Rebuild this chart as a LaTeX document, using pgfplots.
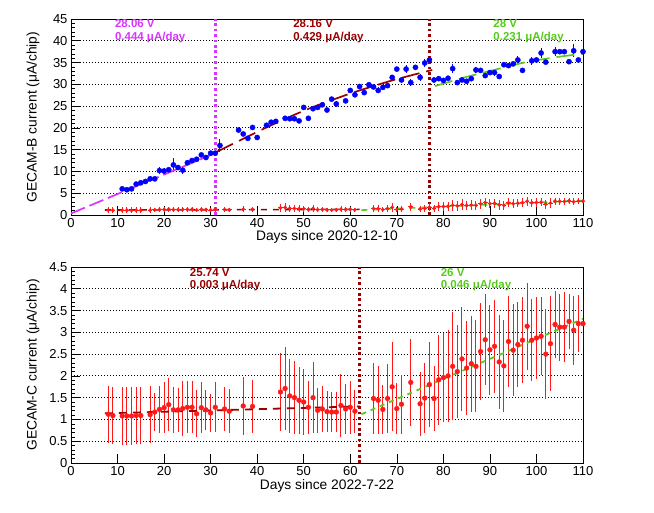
\documentclass[border=0pt]{standalone}
\usepackage{fontspec}
\setmainfont{Liberation Sans}
\usepackage{pgfplots}
\usepackage{pgfplotstable}
\pgfplotsset{compat=1.18}
\definecolor{rmag}{rgb}{0.85,0.2,1}
\definecolor{rmaroon}{rgb}{0.6,0,0}
\definecolor{rgreen}{rgb}{0.33,0.8,0.1}
\definecolor{rred}{rgb}{1,0.1,0.1}

\pgfplotstableread{
day val err
11 6.0 0.3
12 5.8 0.3
13 6.0 0.3
14 7.1 0.3
15 7.4 0.3
16 7.7 0.3
17 8.3 0.6
18 8.3 0.4
19 10.2 0.9
20 10.1 0.6
21 10.4 0.4
22 11.5 1.5
23 10.9 0.4
24 10.3 1.0
25 12.0 0.4
26 12.5 0.4
27 12.8 0.4
28 13.8 0.5
29 13.2 0.4
30 14.2 0.4
31 14.2 0.5
32 15.95 1.5
36 19.5 0.4
37 18.6 0.5
38 17.6 0.4
39 20.1 0.4
40 17.8 0.4
42 20.6 0.4
43 21.3 0.4
44 21.5 0.4
46 22.2 0.4
47 22.1 0.4
48 22.1 0.4
49 21.6 0.4
50 24.7 0.5
51 22.2 0.4
52 24.4 0.5
53 24.7 0.6
54 25.3 0.5
55 24.1 0.4
56 26.6 0.4
57 25.5 0.6
59 26.2 0.4
60 28.6 0.4
61 27.6 0.6
62 29.5 0.4
63 28.1 0.6
64 29.9 0.4
65 29.4 0.4
66 28.6 0.7
67 29.3 0.4
68 29.7 0.4
69 31.6 0.6
70 33.5 0.4
71 31.0 0.4
72 33.5 1.0
73 30.4 0.8
74 33.9 0.4
75 31.6 0.8
76 34.9 1.0
77 35.6 0.8
78 31.0 0.4
79 31.3 0.4
80 30.9 0.4
81 31.4 0.5
82 33.6 1.0
83 30.4 0.4
84 31.0 0.4
85 30.7 0.4
86 31.3 0.4
87 33.3 0.7
88 33.2 0.4
89 32.0 0.4
90 32.7 0.4
91 32.7 0.7
92 31.8 0.5
93 34.5 0.4
94 34.3 0.4
95 34.7 0.4
96 35.6 1.0
97 33.2 0.4
99 35.4 0.9
100 35.6 0.4
101 37.2 1.2
102 35.1 0.4
104 37.5 1.0
105 37.5 0.4
106 37.5 0.4
107 35.2 0.4
108 37.7 1.5
109 35.6 0.4
110 37.5 1.0
}\bluedata

\pgfplotstableread{
day val err
8 1.12 0.65
9 1.09 0.65
11 1.08 0.66
12 1.08 0.66
13 1.08 0.66
14 1.09 0.66
15 1.09 0.66
17 1.11 0.66
18 1.17 0.44
19 1.23 0.54
20 1.27 0.59
21 1.34 0.61
22 1.22 0.52
23 1.22 0.51
24 1.25 0.63
25 1.28 0.60
26 1.28 0.60
27 1.13 0.54
28 1.27 0.59
29 1.22 0.46
30 1.15 0.44
31 1.28 0.57
33 1.24 0.51
34 1.19 0.50
37 1.31 0.66
39 1.30 0.61
45 1.63 0.90
46 1.71 0.95
47 1.54 0.85
48 1.50 0.84
49 1.44 0.77
50 1.40 0.76
51 1.28 0.61
52 1.50 0.82
53 1.21 0.52
54 1.24 0.52
55 1.18 0.47
56 1.17 0.46
57 1.17 0.45
58 1.32 0.73
59 1.24 0.58
60 1.28 0.61
61 1.19 0.49
65 1.48 0.81
66 1.44 0.78
67 1.23 0.56
68 1.48 0.79
69 1.75 1.02
70 1.25 0.59
71 1.35 0.68
73 1.85 0.99
75 1.36 0.73
76 1.49 0.81
77 1.80 0.97
78 1.48 0.75
79 1.91 1.04
80 1.96 1.03
81 2.00 1.05
82 2.22 1.24
83 2.10 1.07
84 2.39 1.19
85 2.18 1.08
86 2.28 1.10
87 2.22 1.06
88 2.56 1.11
89 2.83 1.04
90 2.60 1.03
91 2.68 1.07
92 2.32 1.07
93 2.23 1.06
94 2.79 1.05
95 2.59 1.06
96 2.72 0.98
97 2.82 0.99
98 3.14 1.00
99 2.82 0.94
100 2.87 0.95
101 2.91 0.90
102 2.50 1.04
103 2.74 1.09
104 3.18 0.78
105 3.12 0.77
106 3.12 0.80
107 3.25 0.63
108 3.05 0.79
109 3.20 0.65
110 3.20 0.56
}\reddata

\pgfplotsset{rootax/.style={
  scale only axis, width=512pt, height=196pt,
  xmin=0, xmax=110, xtick={0,10,...,110},
  axis line style={line width=0.8pt},
  tick align=inside, xtick pos=bottom, ytick pos=left,
  minor y tick num=4,
  major tick length=9pt, minor tick length=4.5pt,
  tick style={black, line width=0.6pt},
  ymajorgrids,
  major grid style={black, line width=0.8pt, dash pattern=on 0.9pt off 2.1pt},
  /pgf/number format/assume math mode=true,
  tick label style={font=\fontsize{13}{15}\selectfont},
  label style={font=\fontsize{13.8}{16}\selectfont},
  xlabel style={at={(axis description cs:0.5,0)}, anchor=base, yshift=-26pt},
  ylabel style={at={(axis description cs:-0.0742,0.5)}, anchor=center},
  clip=true,
}}
\tikzset{annot/.style={anchor=base west, font=\bfseries\fontsize{11.5}{13}\selectfont},
  vmark/.style={line width=2.6pt, dash pattern=on 2.6pt off 2.8pt}}

\begin{document}
\begin{tikzpicture}
\useasboundingbox (0,0) rectangle (654pt,512pt);

% ---------- top panel ----------
\begin{axis}[rootax, at={(71pt,297pt)}, anchor=south west,
  ymin=0, ymax=45, ytick={0,5,...,45},
  xlabel={Days since 2020-12-10},
  ylabel={GECAM-B current (μA/chip)}]
% vertical markers
\addplot[rmag, vmark] coordinates {(31,0) (31,45)};
\addplot[rmaroon, vmark] coordinates {(77,0) (77,45)};
% red data (overlay)
\addplot[rmaroon, line width=1.6pt, dash pattern=on 6pt off 6pt] coordinates {(7.3,1.14) (62,1.30)};
\addplot[rgreen, line width=1.6pt, dash pattern=on 6pt off 6pt] coordinates {(62.4,1.12) (110,3.31)};
\addplot[only marks, mark=*, mark size=1.7pt, color=rred,
  error bars/.cd, y dir=both, y explicit, x dir=both, x fixed=0.5,
  error mark=none, error bar style={rred, line width=0.9pt}]
  table[x=day, y=val, y error=err] {\reddata};
% blue data
\addplot[only marks, mark=*, mark size=2.6pt, color=blue,
  error bars/.cd, y dir=both, y explicit,
  error mark=none, error bar style={blue, line width=1pt}]
  table[x=day, y=val, y error=err] {\bluedata};
% fits
\addplot[rmag, line width=1.7pt, dash pattern=on 15pt off 5pt] coordinates {(0,0.35) (31,14.2)};
\addplot[rmaroon, line width=1.7pt, dash pattern=on 18pt off 7pt, smooth] coordinates {
  (31.3,14.5) (37,17.5) (42,20.1) (48.4,23.2) (53,25.2) (60.3,28.0) (65,29.6) (70,31.2) (77.6,33.3)};
\addplot[rgreen, line width=1.7pt, dash pattern=on 18pt off 7pt, smooth] coordinates {
  (78.2,29.6) (83.9,31.4) (86.4,32.1) (93.5,34.0) (97.8,35.1) (104.6,36.3) (110,37.0)};
\node[annot, text=rmag] at (axis cs:8.7,43.0) {28.06 V};
\node[annot, text=rmag] at (axis cs:8.7,40.0) {0.444 μA/day};
\node[annot, text=rmaroon] at (axis cs:47.0,43.0) {28.16 V};
\node[annot, text=rmaroon] at (axis cs:47.0,40.0) {0.429 μA/day};
\node[annot, text=rgreen] at (axis cs:90.0,43.0) {28 V};
\node[annot, text=rgreen] at (axis cs:90.0,40.0) {0.231 μA/day};
\end{axis}

% ---------- bottom panel ----------
\begin{axis}[rootax, at={(71pt,49pt)}, anchor=south west,
  ymin=0, ymax=4.5, ytick={0,0.5,...,4.5},
  xlabel={Days since 2022-7-22},
  ylabel={GECAM-C current (μA/chip)}]
\addplot[rmaroon, vmark] coordinates {(62,0) (62,4.5)};
\addplot[only marks, mark=*, mark size=2.4pt, color=rred,
  error bars/.cd, y dir=both, y explicit,
  error mark=none, error bar style={rred, line width=1pt}]
  table[x=day, y=val, y error=err] {\reddata};
\addplot[rmaroon, line width=1.8pt, dash pattern=on 8pt off 6pt] coordinates {(7.3,1.14) (62,1.30)};
\addplot[rgreen, line width=1.8pt, dash pattern=on 5pt off 5pt] coordinates {(62.4,1.12) (110,3.31)};
\node[annot, text=rmaroon] at (axis cs:24.8,4.29) {25.74 V};
\node[annot, text=rmaroon] at (axis cs:24.8,4.0) {0.003 μA/day};
\node[annot, text=rgreen] at (axis cs:78.7,4.29) {26 V};
\node[annot, text=rgreen] at (axis cs:78.7,4.0) {0.046 μA/day};
\end{axis}
\end{tikzpicture}
\end{document}
